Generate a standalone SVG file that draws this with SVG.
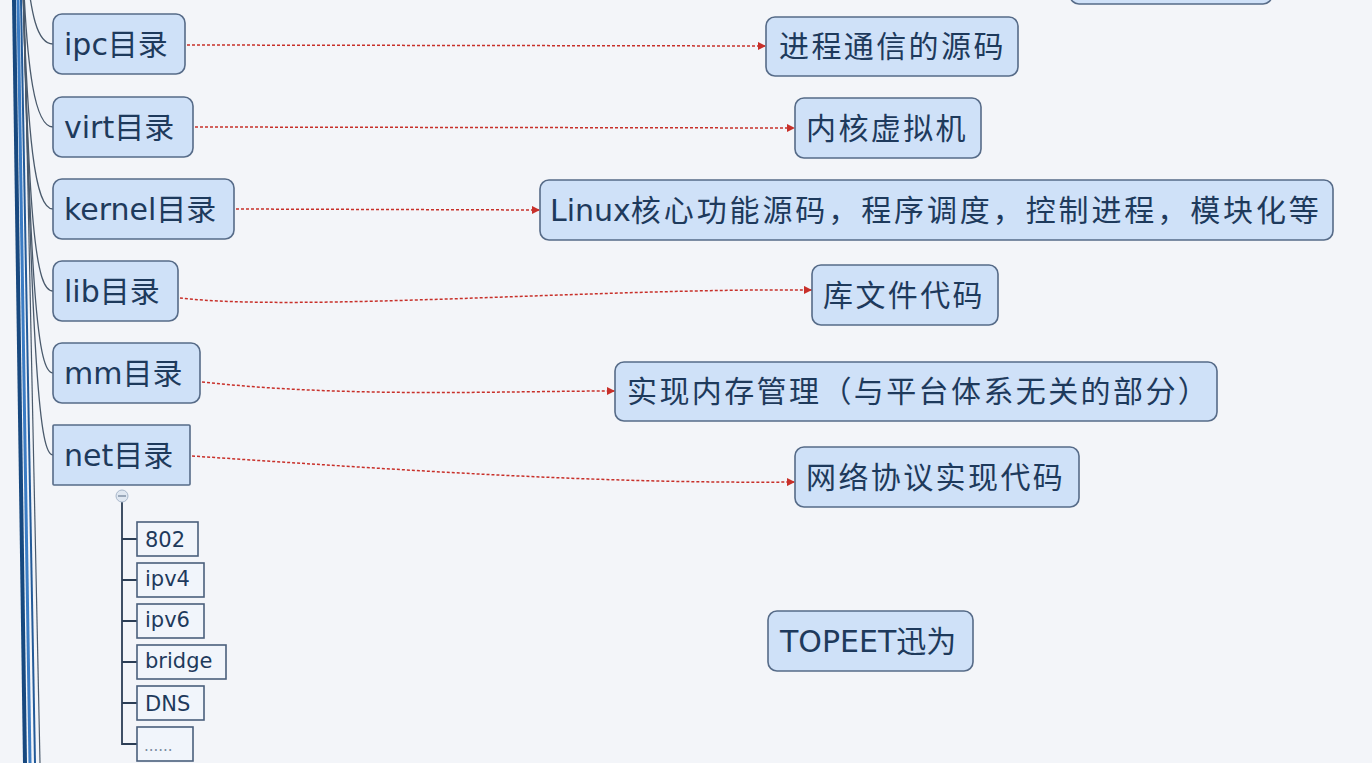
<svg xmlns="http://www.w3.org/2000/svg" width="1372" height="763" viewBox="0 0 1372 763">
<defs>
<style>
.bg{fill:#f3f5f9}
.node rect{fill:#cfe1f8;stroke:#566b88;stroke-width:1.6}
.sub rect{fill:#f1f5fb;stroke:#4a5f7c;stroke-width:1.6}
.t{font-family:"DejaVu Sans","Noto Sans CJK SC",sans-serif;fill:#1e3a5c}
.big{font-size:30px}
.rt{font-family:"Noto Sans CJK SC",sans-serif;font-size:30px;letter-spacing:2.4px;fill:#1e3a5c}
.sm{font-size:21px}
.rel{fill:none;stroke:#c8302a;stroke-width:1.5;stroke-dasharray:3 2}
.br{fill:none;stroke:#4a5a6c;stroke-width:1.3}
.tree{fill:none;stroke:#2c3e55;stroke-width:1.8}
</style>
<marker id="arr" viewBox="0 0 10 10" refX="10" refY="5" markerWidth="8" markerHeight="8" markerUnits="userSpaceOnUse" orient="auto">
<path d="M0,0 L10,5 L0,10 z" fill="#c8302a"/>
</marker>
</defs>
<rect class="bg" x="0" y="0" width="1372" height="763"/>

<g id="connectors">
<path d="M14,0 L25,763" stroke="#17487f" stroke-width="4" fill="none"/>
<path d="M18,0 L30,763" stroke="#3b7cc4" stroke-width="3" fill="none"/>
<path d="M21,0 L35,763" stroke="#235a98" stroke-width="2" fill="none"/>
<path d="M24,0 L40,763" stroke="#4a5a6c" stroke-width="1.2" fill="none"/>
<path class="br" d="M24,-60 C30,20 38,44 53,44"/>
<path class="br" d="M22,-60 C26,80 36,127 53,127"/>
<path class="br" d="M22,-60 C26,150 36,209 53,209"/>
<path class="br" d="M22,-60 C28,230 36,291 53,291"/>
<path class="br" d="M22,-60 C30,300 38,373 53,373"/>
<path class="br" d="M22,-60 C32,380 40,455 53,455"/>
<path class="tree" d="M122,502 L122,745"/>
<path class="tree" d="M122,539 H137 M122,580 H137 M122,621 H137 M122,662 H137 M122,703 H137 M122,744 H137"/>
<path class="rel" marker-end="url(#arr)" d="M187,45 L766,46"/>
<path class="rel" marker-end="url(#arr)" d="M195,127 L795,128"/>
<path class="rel" marker-end="url(#arr)" d="M236,209 L540,210"/>
<path class="rel" marker-end="url(#arr)" d="M180,298 C300,312 600,288 812,290"/>
<path class="rel" marker-end="url(#arr)" d="M202,382 C350,398 500,391 615,391"/>
<path class="rel" marker-end="url(#arr)" d="M192,456 C400,470 600,484 795,482"/>
</g>

<g id="node-top-partial" class="node"><rect x="1070" y="-50" width="202" height="54" rx="9"/></g>

<g id="node-ipc" class="node"><rect x="53" y="14" width="132" height="60" rx="9"/>
<text class="t big" x="64" y="55">ipc目录</text></g>
<g id="node-virt" class="node"><rect x="53" y="97" width="140" height="60" rx="9"/>
<text class="t big" x="64" y="138">virt目录</text></g>
<g id="node-kernel" class="node"><rect x="53" y="179" width="181" height="60" rx="9"/>
<text class="t big" x="64" y="220">kernel目录</text></g>
<g id="node-lib" class="node"><rect x="53" y="261" width="125" height="60" rx="9"/>
<text class="t big" x="64" y="302">lib目录</text></g>
<g id="node-mm" class="node"><rect x="53" y="343" width="147" height="60" rx="9"/>
<text class="t big" x="64" y="384">mm目录</text></g>
<g id="node-net" class="node"><rect x="53" y="425" width="137" height="60" rx="1"/>
<text class="t big" x="64" y="466">net目录</text></g>
<g id="net-collapse"><circle cx="122" cy="496" r="6" fill="#dfe7f1" stroke="#a9b8cb" stroke-width="1"/><path d="M118,496 H126" stroke="#6d7f96" stroke-width="1.2"/></g>

<g id="sub-802" class="sub"><rect x="137" y="522" width="61" height="34"/><text class="t sm" x="145" y="547">802</text></g>
<g id="sub-ipv4" class="sub"><rect x="137" y="563" width="67" height="34"/><text class="t sm" x="145" y="586">ipv4</text></g>
<g id="sub-ipv6" class="sub"><rect x="137" y="604" width="67" height="34"/><text class="t sm" x="145" y="627">ipv6</text></g>
<g id="sub-bridge" class="sub"><rect x="137" y="645" width="89" height="34"/><text class="t sm" x="145" y="668">bridge</text></g>
<g id="sub-dns" class="sub"><rect x="137" y="686" width="67" height="34"/><text class="t sm" x="145" y="711">DNS</text></g>
<g id="sub-more" class="sub"><rect x="137" y="727" width="56" height="34"/><text class="t" x="144" y="751" style="fill:#7a8aa0;font-size:15px">......</text></g>

<g id="node-ipc-desc" class="node"><rect x="766" y="17" width="252" height="59" rx="9"/>
<text class="rt" x="779" y="57">进程通信的源码</text></g>
<g id="node-virt-desc" class="node"><rect x="795" y="98" width="186" height="60" rx="9"/>
<text class="rt" x="806" y="139">内核虚拟机</text></g>
<g id="node-kernel-desc" class="node"><rect x="540" y="180" width="793" height="60" rx="9"/>
<text class="rt" x="550" y="221" style="letter-spacing:2.9px"><tspan font-family="DejaVu Sans" letter-spacing="0">Linux</tspan>核心功能源码，程序调度，控制进程，模块化等</text></g>
<g id="node-lib-desc" class="node"><rect x="812" y="265" width="186" height="60" rx="9"/>
<text class="rt" x="823" y="306">库文件代码</text></g>
<g id="node-mm-desc" class="node"><rect x="615" y="362" width="602" height="59" rx="9"/>
<text class="rt" x="627" y="402">实现内存管理（与平台体系无关的部分）</text></g>
<g id="node-net-desc" class="node"><rect x="795" y="447" width="284" height="60" rx="9"/>
<text class="rt" x="806" y="488">网络协议实现代码</text></g>
<g id="node-topeet" class="node"><rect x="768" y="611" width="205" height="60" rx="9"/>
<text class="t big" x="780" y="652">TOPEET迅为</text></g>
</svg>
